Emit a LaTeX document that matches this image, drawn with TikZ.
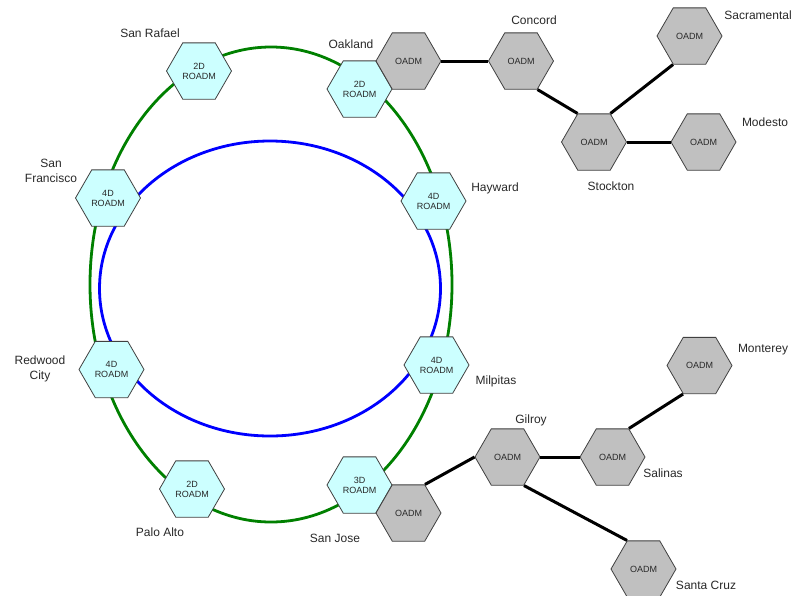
\documentclass[tikz,border=0pt]{standalone}
\usepackage{fontspec}
\setmainfont{Liberation Sans}
\usetikzlibrary{shapes.geometric}
\definecolor{ringgreen}{RGB}{0,128,0}
\definecolor{ringblue}{RGB}{0,0,255}
\definecolor{roadmfill}{RGB}{204,255,255}
\definecolor{oadmfill}{RGB}{192,192,192}
\definecolor{edgegray}{RGB}{64,64,64}
\definecolor{txt}{RGB}{40,40,40}
\begin{document}
\begin{tikzpicture}[x=1pt,y=-1pt,
  hexbase/.style={regular polygon, regular polygon sides=6, minimum size=65pt, inner sep=0pt,
    draw=edgegray, line width=0.8pt, font=\fontsize{9}{10}\selectfont, text=txt, align=center},
  roadm/.style={hexbase, fill=roadmfill},
  oadm/.style={hexbase, fill=oadmfill},
  city/.style={font=\fontsize{12}{14.5}\selectfont, text=txt, align=center, inner sep=0pt},
  link/.style={line width=3pt, black},
  ring/.style={line width=2.8pt}]
\useasboundingbox (0,0) rectangle (802,595);
\draw[ring, ringgreen] (271,284.5) ellipse [x radius=181, y radius=237.5];
\draw[ring, ringblue] (270,288.5) ellipse [x radius=170.5, y radius=147.5];
% ROADM nodes
\node[roadm] (sr) at (199,71) {2D\\ROADM};
\node[roadm] (oak) at (359.5,89) {2D\\ROADM};
\node[roadm] (sf) at (108,198) {4D\\ROADM};
\node[roadm] (hay) at (433.5,201) {4D\\ROADM};
\node[roadm] (rc) at (111.5,369.5) {4D\\ROADM};
\node[roadm] (mil) at (436.5,365) {4D\\ROADM};
\node[roadm] (pa) at (192,489) {2D\\ROADM};
\node[roadm] (sj) at (359.5,485) {3D\\ROADM};
% OADM nodes
\node[oadm] (oako) at (408.5,61) {OADM};
\node[oadm] (con) at (521,61) {OADM};
\node[oadm] (sac) at (689.5,36) {OADM};
\node[oadm] (sto) at (594,142) {OADM};
\node[oadm] (mod) at (703.5,142) {OADM};
\node[oadm] (sjo) at (408.5,513) {OADM};
\node[oadm] (gil) at (507.5,457) {OADM};
\node[oadm] (sal) at (612.5,457) {OADM};
\node[oadm] (mon) at (699.5,365.5) {OADM};
\node[oadm] (scz) at (643.5,569) {OADM};
% links
\draw[link] (oako.0) -- (con.180);
\draw[link] (con.300) -- (sto.120);
\draw[link] (sto.60) -- (sac.240);
\draw[link] (sto.0) -- (mod.180);
\draw[link] (sjo.60) -- (gil.180);
\draw[link] (gil.0) -- (sal.180);
\draw[link] (sal.60) -- (mon.240);
\draw[link] (gil.300) -- (scz.120);
% labels
\node[city] (lsr) at (150,33) {San Rafael};
\node[city] (loak) at (351,44) {Oakland};
\node[city] (lcon) at (534,20) {Concord};
\node[city] (lsac) at (758,15) {Sacramental};
\node[city] (lmod) at (765,122) {Modesto};
\node[city] (lsto) at (611,186) {Stockton};
\node[city] (lsf) at (51,171) {San\\Francisco};
\node[city] (lhay) at (495,188) {Hayward};
\node[city] (lrc) at (40,369) {Redwood\\City};
\node[city] (lmil) at (496,381) {Milpitas};
\node[city] (lgil) at (531,420) {Gilroy};
\node[city] (lsal) at (663,473) {Salinas};
\node[city] (lmon) at (763,350) {Monterey};
\node[city] (lscz) at (706,585) {Santa Cruz};
\node[city] (lpa) at (160,532) {Palo Alto};
\node[city] (lsj) at (335,538) {San Jose};
\end{tikzpicture}
\end{document}
